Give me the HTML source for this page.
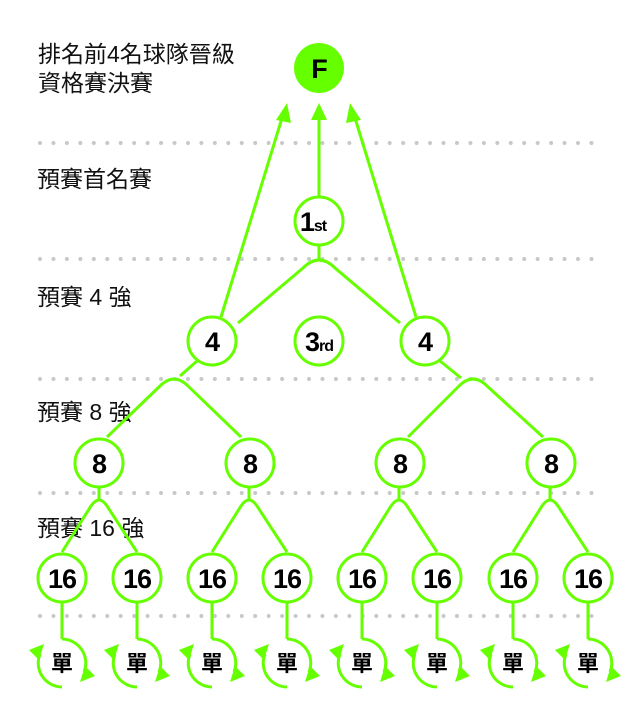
<!DOCTYPE html>
<html><head><meta charset="utf-8"><style>
html,body{margin:0;padding:0;background:#fff;}
svg{display:block}
.lbl{font-family:"Liberation Sans","Noto Sans CJK TC",sans-serif;font-size:23px;fill:#111}
.n{font-family:"Liberation Sans",sans-serif;font-weight:bold;font-size:27px;fill:#000;text-anchor:middle;letter-spacing:-1px}
.c{fill:#fff;stroke:#66ff00;stroke-width:3}
.l{fill:none;stroke:#66ff00;stroke-width:3}
.d{stroke:#c8c8c8;stroke-width:4;stroke-linecap:round;stroke-dasharray:0 13.45}
.a{fill:#66ff00}
.s{font-family:"Liberation Sans","Noto Sans CJK TC",sans-serif;font-weight:bold;font-size:22px;fill:#000;text-anchor:middle}
</style></head><body>
<svg width="638" height="706" viewBox="0 0 638 706">
<defs>
<g id="b">
<path class="l" d="M99,488 L99,500"/>
<path class="l" d="M62,552 L91,506 Q99,494 107,506 L137,552"/>
</g>
<g id="u">
<path class="l" d="M0,602 L0,639"/>
<path class="l" d="M0,639 A24,24 0 0 1 22,672"/>
<polygon class="a" points="23,666 33,676 18,682"/>
<path class="l" d="M0,687 A24,24 0 0 1 -22,654"/>
<polygon class="a" points="-23,660 -33,650 -18,644"/>
<circle class="c" cx="0" cy="578" r="24"/>
<text class="n" x="0" y="588">16</text>
<text class="s" x="0" y="671">單</text>
</g>
</defs>
<line class="d" x1="40" y1="143" x2="595" y2="143"/>
<line class="d" x1="40" y1="259" x2="595" y2="259"/>
<line class="d" x1="40" y1="379" x2="595" y2="379"/>
<line class="d" x1="40" y1="493" x2="595" y2="493"/>
<line class="d" x1="40" y1="616" x2="595" y2="616"/>
<text class="lbl" x="38" y="62">排名前4名球隊晉級</text>
<text class="lbl" x="38" y="91">資格賽決賽</text>
<text class="lbl" x="37" y="187">預賽首名賽</text>
<text class="lbl" x="37" y="305">預賽 4 強</text>
<text class="lbl" x="37" y="420">預賽 8 強</text>
<text class="lbl" x="37" y="536">預賽 16 強</text>
<path class="l" d="M221,317 L282,118"/>
<polygon class="a" points="287,103 276,120 291,123"/>
<path class="l" d="M319,197 L319,118"/>
<polygon class="a" points="319,103 311,120 327,120"/>
<path class="l" d="M416,317 L355,118"/>
<polygon class="a" points="350,103 346,123 361,120"/>
<path class="l" d="M319,246 L319,259"/>
<path class="l" d="M238,323 L303,268 Q319,252 335,268 L400,323"/>
<path class="l" d="M197,361 L180,376"/>
<path class="l" d="M107,437 L160,386 Q174,372 188,386 L241,437"/>
<path class="l" d="M440,361 L461,378"/>
<path class="l" d="M408,437 L459,386 Q473,372 487,386 L543,437"/>
<use href="#b"/>
<use href="#b" transform="translate(150,0)"/>
<use href="#b" transform="translate(300,0)"/>
<use href="#b" transform="translate(451,0)"/>
<circle cx="319" cy="68" r="25" fill="#66ff00"/>
<text class="n" x="319" y="78">F</text>
<circle class="c" cx="319" cy="221" r="24"/>
<text class="n" x="313" y="231">1<tspan font-size="16">st</tspan></text>
<circle class="c" cx="212" cy="341" r="24"/>
<text class="n" x="212" y="351">4</text>
<circle class="c" cx="319" cy="341" r="24"/>
<text class="n" x="319" y="351">3<tspan font-size="16">rd</tspan></text>
<circle class="c" cx="425" cy="341" r="24"/>
<text class="n" x="425" y="351">4</text>
<circle class="c" cx="99" cy="463" r="24"/><text class="n" x="99" y="473">8</text>
<circle class="c" cx="250" cy="463" r="24"/><text class="n" x="250" y="473">8</text>
<circle class="c" cx="400" cy="463" r="24"/><text class="n" x="400" y="473">8</text>
<circle class="c" cx="551" cy="463" r="24"/><text class="n" x="551" y="473">8</text>
<use href="#u" transform="translate(62,0)"/>
<use href="#u" transform="translate(137,0)"/>
<use href="#u" transform="translate(212,0)"/>
<use href="#u" transform="translate(287,0)"/>
<use href="#u" transform="translate(362,0)"/>
<use href="#u" transform="translate(437,0)"/>
<use href="#u" transform="translate(513,0)"/>
<use href="#u" transform="translate(588,0)"/>
</svg>
</body></html>
